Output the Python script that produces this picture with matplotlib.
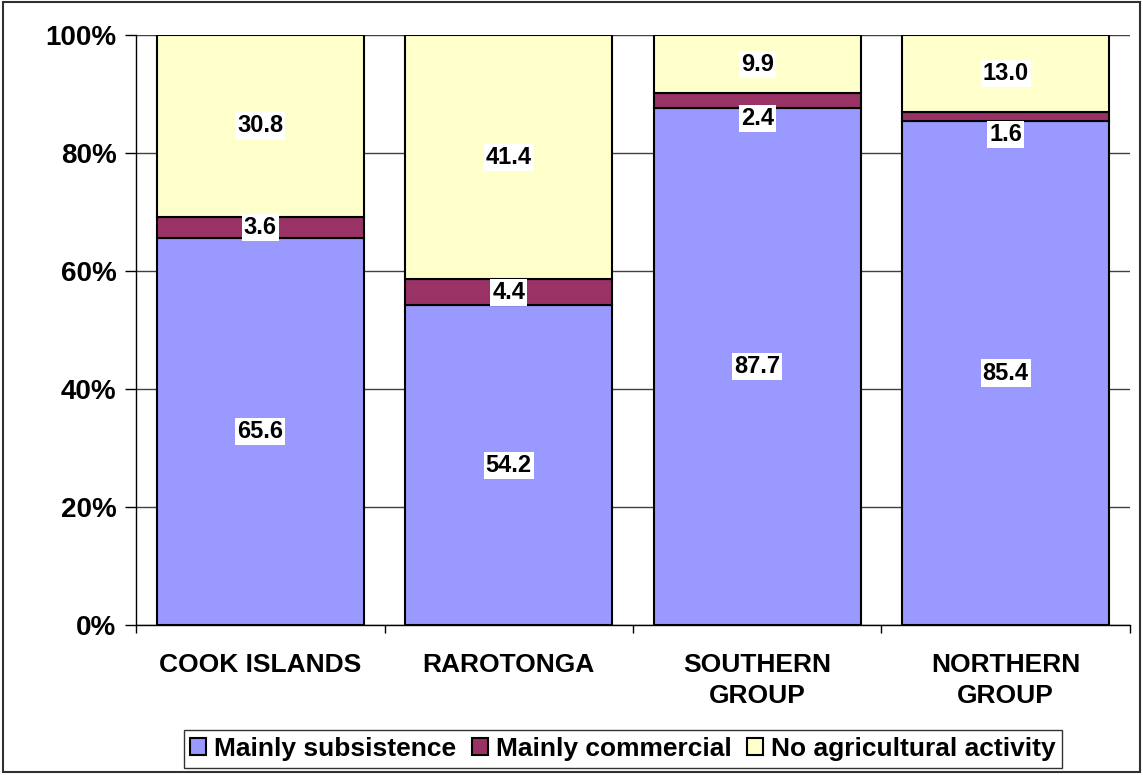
import matplotlib.pyplot as plt
import numpy as np
from matplotlib.patches import Rectangle

plt.rcParams["font.family"] = ["Liberation Sans", "DejaVu Sans"]
plt.rcParams["font.weight"] = "bold"

categories = ["COOK ISLANDS", "RAROTONGA", "SOUTHERN\nGROUP", "NORTHERN\nGROUP"]
subsistence = [65.6, 54.2, 87.7, 85.4]
commercial = [3.6, 4.4, 2.4, 1.6]
no_activity = [30.8, 41.4, 9.9, 13.0]

series = [
    ("Mainly subsistence", subsistence, "#9999FF"),
    ("Mainly commercial", commercial, "#993366"),
    ("No agricultural activity", no_activity, "#FFFFCC"),
]

fig = plt.figure(figsize=(11.43, 7.75), dpi=100)
ax = fig.add_axes([0.119, 0.1935, 0.8696, 0.7613])

x = np.arange(len(categories))
bottom = np.zeros(len(categories))
for name, vals, color in series:
    vals = np.array(vals)
    ax.bar(x, vals, 0.833, bottom=bottom, color=color, edgecolor="black",
           linewidth=1.5, label=name, zorder=3)
    for xi, b, v in zip(x, bottom, vals):
        yc = b + v / 2
        if v < 3:
            # excel pushed the tiny labels down a bit
            yc -= 3
        ax.text(xi, yc, f"{v:.1f}", ha="center", va="center", fontsize=17,
                fontweight="bold", zorder=5,
                bbox=dict(facecolor="white", edgecolor="none", pad=1.5))
    bottom += vals

ax.set_xlim(-0.5, len(categories) - 0.5)
ax.set_ylim(0, 100)
ax.set_yticks(np.arange(0, 101, 20))
ax.set_yticklabels([f"{t}%" for t in range(0, 101, 20)], fontsize=20, fontweight="bold")
ax.yaxis.grid(True, color="#404040", linewidth=1.0, zorder=0)
ax.tick_params(axis="y", direction="out", length=8, width=1, pad=6)

ax.set_xticks(np.arange(-0.5, len(categories), 1.0))
ax.set_xticklabels([])
ax.set_xticks(x, minor=True)
ax.set_xticklabels(categories, minor=True, fontsize=19, fontweight="bold",
                   linespacing=1.4)
ax.tick_params(axis="x", which="major", direction="out", length=6, width=1)
ax.tick_params(axis="x", which="minor", length=0, pad=20)

for s in ["top", "right"]:
    ax.spines[s].set_visible(False)
ax.spines["left"].set_linewidth(1)
ax.spines["bottom"].set_linewidth(1)

leg = fig.legend(loc="center", bbox_to_anchor=(623 / 1143, 1 - 749 / 775), ncol=3,
                 fontsize=19, frameon=True, fancybox=False, edgecolor="black",
                 handlelength=0.6, handleheight=0.6, handletextpad=0.3,
                 columnspacing=0.6, borderpad=0.25, borderaxespad=0)
leg.get_frame().set_linewidth(1)

fig.patches.append(Rectangle((0.003, 0.004), 0.994, 0.994, transform=fig.transFigure,
                             fill=False, edgecolor="#303030", linewidth=1.5))

fig.savefig("out.png", dpi=100)
